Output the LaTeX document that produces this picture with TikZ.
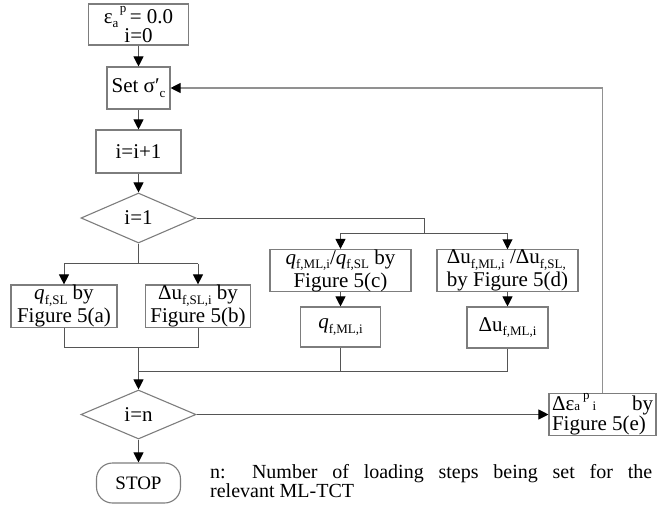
\documentclass[tikz,border=0pt]{standalone}
\usepackage{fontspec}
\setmainfont{Liberation Serif}
\usetikzlibrary{arrows.meta,shapes.geometric}
\definecolor{boxc}{RGB}{125,125,125}
\definecolor{linec}{RGB}{85,85,85}
\definecolor{fbc}{RGB}{145,145,145}
\newcommand{\dn}[1]{\raisebox{-0.22em}{\fontsize{13}{13}\selectfont #1}}
\newcommand{\dnx}[1]{\raisebox{0pt}{\fontsize{13}{13}\selectfont #1}}
\newcommand{\up}[1]{\raisebox{0.5em}{\fontsize{13}{13}\selectfont #1}}
\begin{document}
\begin{tikzpicture}[x=1pt,y=-1pt,
  box/.style={draw=boxc,line width=1.1pt,inner sep=0pt,align=center,fill=white,
    font=\fontsize{21}{23}\selectfont},
  dia/.style={draw=boxc,line width=1.1pt,diamond,inner sep=0pt,
    font=\fontsize{21}{23}\selectfont},
  conn/.style={draw=linec,line width=1pt},
  arr/.style={conn,-{Triangle[length=10pt,width=10pt,color=black]}},
  fb/.style={draw=fbc,line width=1.1pt,-{Triangle[length=10pt,width=10pt,color=black]}}]
\useasboundingbox (0,0) rectangle (667,504);

\node[box,minimum width=100pt,minimum height=41pt,font=\fontsize{21}{19}\selectfont] (b1) at (138.5,24.5)
  {ε\dn{a}\hspace{1.5pt}\up{p}\,= 0.0\\i=0};
\node[box,minimum width=63pt,minimum height=42pt] (b2) at (138.5,88) {Set σ′\dn{c}};
\node[box,minimum width=85pt,minimum height=43pt] (b3) at (138.5,151.5) {i=i+1};
\node[dia,minimum width=115pt,minimum height=50pt,aspect=2.3] (d1) at (138.5,218) {i=1};

\node[box,minimum width=106pt,minimum height=42pt] (b4) at (64,306)
  {\textit{q}\dn{f,SL} by\\Figure 5(a)};
\node[box,minimum width=105pt,minimum height=42pt] (b5) at (198,306)
  {Δu\dn{f,SL,i} by\\Figure 5(b)};

\node[box,minimum width=141pt,minimum height=41pt] (b6) at (340.5,270.5)
  {\textit{q}\dn{f,ML,i}/\textit{q}\dn{f,SL} by\\Figure 5(c)};
\node[box,minimum width=141pt,minimum height=41pt,align=left] (b7) at (507.5,270.5)
  {Δu\dn{f,ML,i} /Δu\dn{f,SL,}\\by Figure 5(d)};
\node[box,minimum width=80pt,minimum height=40pt] (b8) at (340.5,327)
  {\textit{q}\dn{f,ML,i}};
\node[box,minimum width=81pt,minimum height=41pt] (b9) at (507.5,327.5)
  {Δu\dn{f,ML,i}};

\node[dia,minimum width=115pt,minimum height=49pt,aspect=2.35] (d2) at (138.5,414.5) {i=n};
\node[box,minimum width=107pt,minimum height=40pt,font=\fontsize{21}{20.5}\selectfont] (b10) at (602.5,414.5)
  {\makebox[101pt][s]{Δε\dnx{a}\hspace{3pt}\up{p}\hspace{3pt}\dnx{i}\hfill by}\\\makebox[101pt][l]{Figure 5(e)}};

\node[box,minimum width=84pt,minimum height=40pt,rounded corners=16pt,font=\fontsize{19}{23}\selectfont] (stop) at (138.5,483) {STOP};

\node[anchor=base west,inner sep=0pt] (note) at (210,478)
  {\parbox[t]{442pt}{\fontsize{20}{15.5}\selectfont n: Number of loading steps being set for the\linebreak relevant ML-TCT}};

% main column
\draw[arr] (b1) -- (b2);
\draw[arr] (b2) -- (b3);
\draw[arr] (b3) -- (d1);

% left branch
\draw[conn] (d1.south) -- ++(0,20) coordinate (s1);
\draw[conn] (s1 -| b4) -- (s1 -| b5);
\draw[arr] (s1 -| b4) -- (b4.north);
\draw[arr] (s1 -| b5) -- (b5.north);
\draw[conn] (b4.south) -- ++(0,20) coordinate (j1) -| (b5.south);
\draw[arr] (j1 -| d1.south) -- (d2.north);

% right branch
\coordinate (r1) at (424,233);
\draw[conn] (d1.east) -| (r1);
\draw[conn] (r1 -| b6) -- (r1 -| b7);
\draw[arr] (r1 -| b6) -- (b6.north);
\draw[arr] (r1 -| b7) -- (b7.north);
\draw[arr] (b6) -- (b8);
\draw[arr] (b7) -- (b9);
\draw[conn] (b8.south) -- ++(0,24) coordinate (j2) -| (b9.south);
\draw[conn] (j2) -- (j2 -| d2.north);

% bottom
\draw[arr] (d2.east) -- (b10.west);
\draw[arr] (d2) -- (stop);
\draw[fb] (b10.north) |- (b2.east);
\end{tikzpicture}
\end{document}
